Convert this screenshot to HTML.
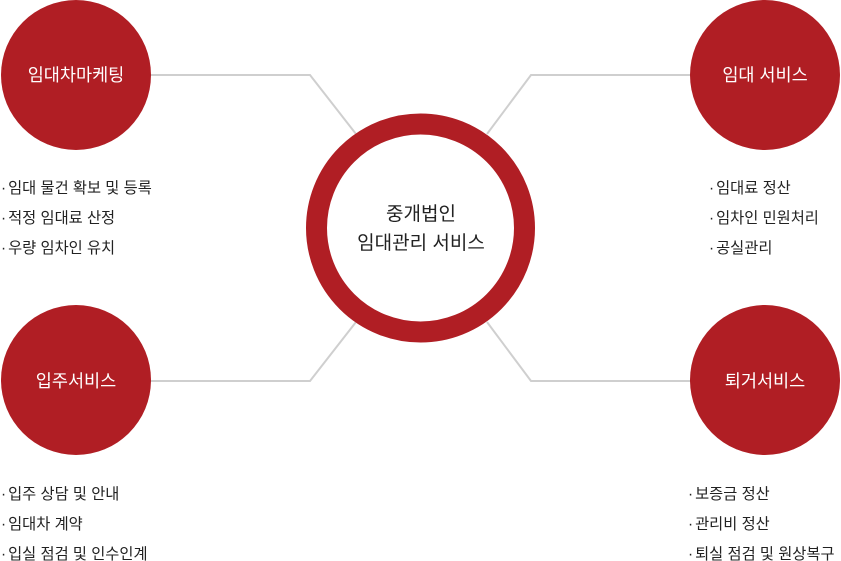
<!DOCTYPE html>
<html><head><meta charset="utf-8"><style>
body{margin:0;width:841px;height:561px;background:#fff;overflow:hidden}
svg{display:block}
text{font-family:"Liberation Sans","Noto Sans CJK KR",sans-serif}
</style></head><body>
<svg width="841" height="561" viewBox="0 0 841 561">
<g stroke="#cfcfcf" stroke-width="2" fill="none">
<polyline points="150,75 310,75 356,134"/>
<polyline points="691,75 531,75 487,134"/>
<polyline points="150,381 310,381 356,322"/>
<polyline points="691,381 531,381 487,322"/>
</g>
<g fill="#b01e24">
<circle cx="76" cy="75" r="75"/>
<circle cx="765" cy="75" r="75"/>
<circle cx="76" cy="380" r="75"/>
<circle cx="765" cy="380" r="75"/>
</g>
<circle cx="420.5" cy="228" r="104" fill="#fff" stroke="#b01e24" stroke-width="21"/>
<g fill="#fff" font-size="17.5" text-anchor="middle">
<text x="76" y="81">임대차마케팅</text>
<text x="765" y="81">임대 서비스</text>
<text x="76" y="387">입주서비스</text>
<text x="765" y="387">퇴거서비스</text>
</g>
<g fill="#222" font-size="19" text-anchor="middle">
<text x="421" y="220">중개법인</text>
<text x="421" y="249">임대관리 서비스</text>
</g>
<g fill="#222" font-size="15.3">
<text x="1" y="193">·<tspan dx="2">임대 물건 확보 및 등록</tspan></text>
<text x="1" y="223">·<tspan dx="2">적정 임대료 산정</tspan></text>
<text x="1" y="253">·<tspan dx="2">우량 임차인 유치</tspan></text>
<text x="709" y="193">·<tspan dx="2">임대료 정산</tspan></text>
<text x="709" y="223">·<tspan dx="2">임차인 민원처리</tspan></text>
<text x="709" y="253">·<tspan dx="2">공실관리</tspan></text>
<text x="1" y="499">·<tspan dx="2">입주 상담 및 안내</tspan></text>
<text x="1" y="529">·<tspan dx="2">임대차 계약</tspan></text>
<text x="1" y="559">·<tspan dx="2">입실 점검 및 인수인계</tspan></text>
<text x="688" y="499">·<tspan dx="2">보증금 정산</tspan></text>
<text x="688" y="529">·<tspan dx="2">관리비 정산</tspan></text>
<text x="688" y="559">·<tspan dx="2">퇴실 점검 및 원상복구</tspan></text>
</g>
</svg>
</body></html>
